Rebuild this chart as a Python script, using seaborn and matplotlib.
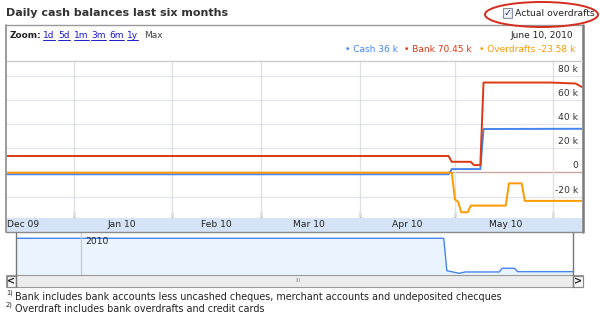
import numpy as np
import pandas as pd
import matplotlib
matplotlib.use("Agg")
import matplotlib.pyplot as plt
import matplotlib.transforms as mtransforms
from matplotlib.patches import Rectangle, Ellipse
from matplotlib.lines import Line2D
import seaborn as sns

# ---------------- data ----------------
title = "Daily cash balances last six months"
as_of = "June 10, 2010"
checkbox_label = "Actual overdrafts"
zoom_links = ["1d", "5d", "1m", "3m", "6m", "1y"]
series_names = ["Cash", "Bank", "Overdrafts"]
legend_values = ["36 k", "70.45 k", "-23.58 k"]

cash_dates = ["2009-12-11", "2010-04-29", "2010-04-30", "2010-05-09", "2010-05-10", "2010-06-10"]
cash_vals = [-1.6, -1.6, 2.7, 2.7, 35.8, 36.0]

bank_dates = ["2009-12-11", "2010-04-29", "2010-04-30", "2010-05-06", "2010-05-07",
              "2010-05-09", "2010-05-10", "2010-05-31", "2010-06-08", "2010-06-10"]
bank_vals = [13.5, 13.5, 8.7, 8.7, 6.0, 6.0, 74.2, 74.2, 73.4, 70.45]

od_dates = ["2009-12-11", "2010-04-30", "2010-05-01", "2010-05-02", "2010-05-03", "2010-05-05",
            "2010-05-06", "2010-05-17", "2010-05-18", "2010-05-22", "2010-05-23", "2010-06-10"]
od_vals = [-0.3, -0.3, -22.3, -24.4, -33.0, -33.0, -27.5, -27.5, -9.1, -9.1, -23.58, -23.58]

nav_dates = ["2009-12-11", "2010-04-29", "2010-04-30", "2010-05-04", "2010-05-06",
             "2010-05-17", "2010-05-18", "2010-05-22", "2010-05-23", "2010-06-10"]
nav_vals = [0, 0, -30.9, -33.4, -32.1, -32.1, -28.6, -28.6, -31.8, -31.8]

month_starts = ["2010-01-01", "2010-02-01", "2010-03-01", "2010-04-01", "2010-05-01", "2010-06-01"]
month_labels = ["Dec 09", "Jan 10", "Feb 10", "Mar 10", "Apr 10", "May 10"]
month_mid = ["2009-12-16", "2010-01-16", "2010-02-15", "2010-03-16", "2010-04-16", "2010-05-17"]
y_ticks = [-20, 0, 20, 40, 60, 80]
y_tick_labels = ["-20 k", "0", "20 k", "40 k", "60 k", "80 k"]
x_range = ["2009-12-11", "2010-06-10"]
y_range = [-36.9, 92.0]
nav_year_label = "2010"
nav_year_date = "2010-01-01"
footnotes = ["Bank includes bank accounts less uncashed cheques, merchant accounts and undeposited checques",
             "Overdraft includes bank overdrafts and credit cards"]

colors = {"Cash": "#4684ee", "Bank": "#dc3912", "Overdrafts": "#ff9900"}

# ---------------- figure ----------------
sns.set_theme(style="white")
plt.rcParams["font.family"] = ["DejaVu Sans"]
W, H = 600, 321
fig = plt.figure(figsize=(W / 100, H / 100), dpi=100)
fig.patch.set_facecolor("white")


def fx(x):
    return x / W


def fy(y):
    return 1 - y / H


def rect(x0, y0, x1, y1, **kw):
    fig.add_artist(Rectangle((fx(x0), fy(y1)), (x1 - x0) / W, (y1 - y0) / H,
                             transform=fig.transFigure, **kw))


def line(x0, y0, x1, y1, **kw):
    fig.add_artist(Line2D([fx(x0), fx(x1)], [fy(y0), fy(y1)], transform=fig.transFigure, **kw))


def text(x, y, s, **kw):
    return fig.text(fx(x), fy(y), s, **kw)


# main axes
ax = fig.add_axes([fx(7), fy(217), 575 / W, 156 / H])
ax.set_zorder(2)
df = pd.concat([
    pd.DataFrame({"date": pd.to_datetime(cash_dates), "value": cash_vals, "series": "Cash"}),
    pd.DataFrame({"date": pd.to_datetime(bank_dates), "value": bank_vals, "series": "Bank"}),
    pd.DataFrame({"date": pd.to_datetime(od_dates), "value": od_vals, "series": "Overdrafts"}),
], ignore_index=True)

ax.set_facecolor("white")
for v in y_ticks:
    if v == 0:
        ax.axhline(v, color="#c9a7a2", lw=1.0, zorder=1)
    else:
        ax.axhline(v, color="#e3e5ee", lw=0.9, zorder=1)
for d in pd.to_datetime(month_starts):
    ax.axvline(d, color="#dfe3de", lw=1.0, zorder=1)

sns.lineplot(data=df, x="date", y="value", hue="series", hue_order=series_names,
             palette=colors, estimator=None, legend=False, linewidth=1.4, ax=ax, zorder=3)

ax.set_xlim(pd.to_datetime(x_range[0]), pd.to_datetime(x_range[1]))
ax.set_ylim(*y_range)
ax.set_xticks(pd.to_datetime(month_starts))
ax.tick_params(axis="x", direction="in", length=3.5, width=1, color="#555555",
               labelbottom=False, bottom=True)
ax.set_yticks([])
ax.set_xlabel("")
ax.set_ylabel("")
for s in ax.spines.values():
    s.set_visible(False)

ytrans = mtransforms.offset_copy(ax.get_yaxis_transform(), fig=fig, x=0, y=6.5, units="dots")
for v, lab in zip(y_ticks, y_tick_labels):
    ax.text(0.993, v, lab, transform=ytrans, ha="right", va="center", fontsize=6.6, color="#333333")

xtrans = mtransforms.offset_copy(ax.get_xaxis_transform(), fig=fig, x=0, y=-7.5, units="dots")
for d, lab in zip(pd.to_datetime(month_mid), month_labels):
    ax.text(d, 0, lab, transform=xtrans, ha="center", va="center", fontsize=6.6, color="#222222",
            clip_on=False)

# x band
rect(7, 217.5, 582, 232, facecolor="#d4e3f6", edgecolor="none", zorder=1)

# navigator
nax = fig.add_axes([fx(16), fy(275), 557 / W, 43 / H])
nax.set_zorder(2)
ndf = pd.DataFrame({"date": pd.to_datetime(nav_dates), "value": nav_vals})
nax.set_facecolor("white")
nax.fill_between(ndf["date"], ndf["value"], -100, color="#eaf4fe", lw=0)
sns.lineplot(data=ndf, x="date", y="value", color="#4684ee", lw=1.0, estimator=None, ax=nax)
nax.set_xlim(pd.to_datetime(x_range[0]), pd.to_datetime(x_range[1]))
nax.set_ylim(-35, 6)
nax.axvline(pd.to_datetime(nav_year_date), color="#c8cdd2", lw=1.0)
nax.set_xticks([pd.to_datetime(nav_year_date)])
nax.tick_params(axis="x", direction="in", length=3, width=1, color="#555555", labelbottom=False)
nax.set_yticks([])
nax.set_xlabel("")
nax.set_ylabel("")
for s in nax.spines.values():
    s.set_visible(False)
ntrans = mtransforms.offset_copy(nax.get_xaxis_transform(), fig=fig, x=5, y=0, units="dots")
nax.text(pd.to_datetime(nav_year_date), 0.77, nav_year_label, transform=ntrans, ha="left",
         va="center", fontsize=6.6, color="#222222")

# scrollbar
rect(6, 275, 583, 287, facecolor="#ececec", edgecolor="#9a9a9a", lw=0.8, zorder=3)
rect(6.5, 275.5, 16, 286.5, facecolor="#f4f4f4", edgecolor="#8a8a8a", lw=0.8, zorder=4)
rect(573, 275.5, 582.5, 286.5, facecolor="#f4f4f4", edgecolor="#8a8a8a", lw=0.8, zorder=4)
text(11.2, 281, "<", ha="center", va="center", fontsize=7, fontweight="bold", color="#222222", zorder=5)
text(577.8, 281, ">", ha="center", va="center", fontsize=7, fontweight="bold", color="#222222", zorder=5)
text(298, 281, "III", ha="center", va="center", fontsize=4.5, color="#999999", zorder=5)

# borders
line(16, 232, 16, 287, color="#777777", lw=1.0, zorder=5)
line(573, 232, 573, 287, color="#777777", lw=1.0, zorder=5)
line(6, 25, 6, 232, color="#8a8a8a", lw=1.2, zorder=5)
line(6, 25, 583, 25, color="#9a9a9a", lw=1.0, zorder=5)
line(582.8, 25, 582.8, 232, color="#7a7a7a", lw=1.8, zorder=5)
line(6, 232, 583, 232, color="#8a8a8a", lw=1.0, zorder=5)
line(7, 61, 582, 61, color="#cccccc", lw=1.0, zorder=5)

# title and header
text(6, 12.5, title, ha="left", va="center", fontsize=8, fontweight="bold", color="#333333")
rect(503, 8.5, 512, 17.5, facecolor="#eef0f6", edgecolor="#8890a0", lw=0.8, zorder=3)
text(507.5, 12.8, "\u2713", ha="center", va="center", fontsize=7, fontweight="bold", color="#2a3a8a", zorder=4)
text(515, 14, checkbox_label, ha="left", va="center", fontsize=6.7, color="#222222")
fig.add_artist(Ellipse((fx(541.5), fy(14.5)), 113 / W, 25 / H, transform=fig.transFigure,
                       facecolor="none", edgecolor="#d42d1e", lw=1.4, zorder=6))

text(10, 36, "Zoom:", ha="left", va="center", fontsize=6.5, fontweight="bold", color="#222222")
link_x = [43, 58, 74, 91, 109, 127]
link_texts = []
for lx, lab in zip(link_x, zoom_links):
    link_texts.append(text(lx, 36, lab, ha="left", va="center", fontsize=6.5, color="#1a1acc"))
text(144, 36, "Max", ha="left", va="center", fontsize=6.5, color="#444444")

text(573, 35, as_of, ha="right", va="center", fontsize=6.5, color="#222222")

leg_right = [398, 472, 575]
for name, val, xr in zip(series_names, legend_values, leg_right):
    text(xr, 49.5, "\u2022 " + name + " " + val, ha="right", va="center", fontsize=6.5,
         color=colors[name])

# footnotes
for i, note in enumerate(footnotes):
    yy = 297 + 12 * i
    text(6, yy - 4.5, f"{i + 1})", ha="left", va="center", fontsize=4.8, color="#222222")
    text(15, yy, note, ha="left", va="center", fontsize=6.9, color="#222222")

# underline links
fig.canvas.draw()
r = fig.canvas.get_renderer()
for t in link_texts:
    bb = t.get_window_extent(r)
    yb = bb.y0 + 0.5
    fig.add_artist(Line2D([bb.x0 / W, bb.x1 / W], [yb / H, yb / H], transform=fig.transFigure,
                          color="#1a1acc", lw=0.7))

fig.savefig("out.png", dpi=100)
